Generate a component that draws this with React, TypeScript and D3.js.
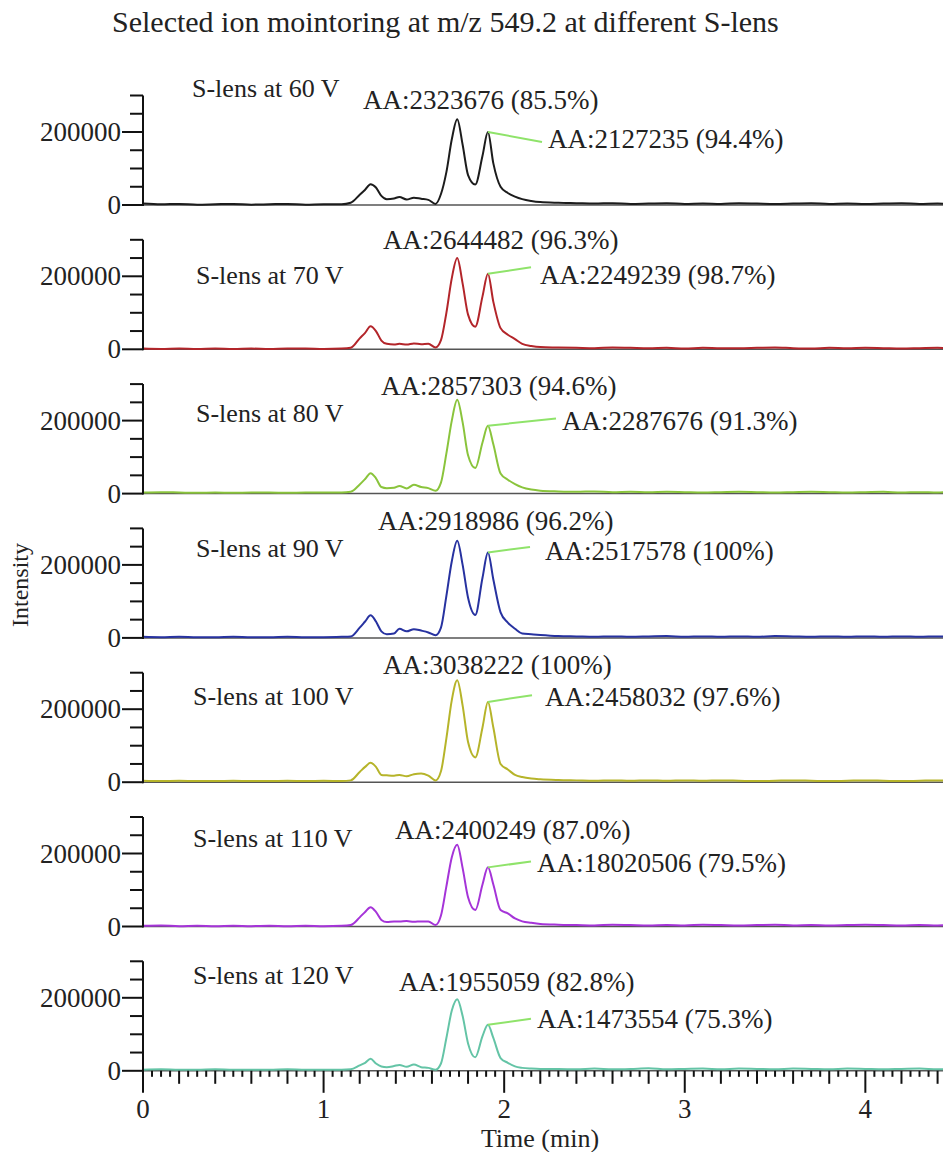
import React from 'react'
import * as d3 from 'd3'

// time grid (min) shared by all traces
const times = [
  0, 0.1, 0.2, 0.3, 0.4, 0.5, 0.6, 0.7, 0.8, 0.9, 1.0, 1.1,
  1.15, 1.2, 1.23, 1.26, 1.29, 1.32, 1.35, 1.39, 1.42, 1.46, 1.5, 1.54, 1.58, 1.62, 1.65,
  1.68, 1.71, 1.74, 1.77, 1.8, 1.84, 1.88, 1.91, 1.94, 1.98, 2.02, 2.06, 2.1, 2.15, 2.2,
  2.3, 2.4, 2.5, 2.6, 2.7, 2.8, 2.9, 3.0, 3.1, 3.2, 3.3, 3.4, 3.5, 3.6, 3.7, 3.8, 3.9,
  4.0, 4.1, 4.2, 4.3, 4.4, 4.45
]

// intensities in thousands
const s60 = [
  4, 2, 3, 1, 2, 3, 1, 2, 3, 1, 2, 2,
  6, 28, 42, 57, 48, 25, 16, 18, 22, 15, 20, 17, 14, 3, 30,
  90, 180, 235, 165, 82, 56, 135, 200, 114, 50, 33, 23, 16, 11, 8,
  6, 5, 4, 5, 3, 4, 5, 3, 4, 3, 5, 4, 3, 4, 5, 3, 4, 3, 4, 5, 3, 4, 3
]
const s70 = [
  2, 1, 2, 1, 2, 1, 2, 1, 2, 2, 1, 2,
  4, 30, 45, 63, 50, 24, 15, 13, 15, 13, 16, 14, 15, 5, 25,
  100, 195, 250, 180, 95, 62, 145, 207, 130, 58, 40, 28, 15, 9, 6,
  5, 4, 3, 5, 4, 3, 4, 2, 4, 3, 3, 4, 5, 3, 2, 4, 3, 4, 3, 2, 3, 4, 3
]
const s80 = [
  3, 4, 3, 2, 3, 2, 3, 3, 2, 3, 3, 3,
  5, 25, 40, 56, 42, 18, 15, 16, 21, 14, 24, 18, 15, 8, 30,
  110, 200, 257, 195, 105, 70, 140, 186, 135, 55, 38, 26, 17, 11, 8,
  6, 5, 6, 4, 5, 4, 5, 4, 3, 4, 5, 4, 3, 4, 5, 4, 3, 4, 5, 3, 4, 3, 4
]
const s90 = [
  3, 2, 3, 2, 2, 3, 2, 2, 3, 2, 2, 3,
  4, 28, 45, 62, 45, 18, 10, 12, 25, 18, 24, 20, 15, 7, 28,
  115, 210, 266, 200, 110, 63, 165, 234, 160, 70, 42, 25, 12, 10, 8,
  5, 4, 3, 4, 3, 4, 5, 3, 4, 3, 4, 3, 5, 4, 3, 4, 3, 4, 3, 4, 3, 4, 3
]
const s100 = [
  4, 3, 4, 3, 3, 4, 3, 3, 4, 3, 4, 3,
  5, 28, 42, 53, 42, 20, 19, 18, 20, 16, 22, 24, 18, 5, 30,
  120, 225, 279, 210, 110, 68, 150, 220, 150, 50, 35, 20, 14, 10, 8,
  6, 5, 4, 5, 4, 5, 4, 5, 4, 5, 4, 3, 4, 5, 4, 3, 4, 5, 4, 3, 4, 5, 4
]
const s110 = [
  2, 3, 1, 2, 1, 2, 1, 2, 1, 2, 1, 2,
  4, 25, 40, 53, 40, 18, 12, 14, 14, 15, 13, 14, 14, 4, 30,
  110, 190, 224, 160, 80, 45, 115, 162, 115, 45, 36, 22, 14, 10, 7,
  5, 4, 3, 5, 4, 3, 4, 3, 5, 4, 3, 4, 5, 3, 4, 3, 4, 5, 4, 3, 4, 3, 4
]
const s120 = [
  3, 4, 3, 3, 4, 3, 3, 3, 4, 3, 3, 3,
  4, 15, 22, 33, 20, 12, 10, 13, 16, 11, 17, 10, 8, 3, 20,
  90, 165, 196, 150, 75, 37, 95, 126, 90, 35, 22, 12, 8, 6, 5,
  5, 4, 6, 4, 5, 7, 4, 5, 6, 4, 6, 5, 4, 6, 5, 4, 6, 5, 4, 5, 6, 4, 5
]

const voltages = ['60', '70', '80', '90', '100', '110', '120']
const series = [s60, s70, s80, s90, s100, s110, s120]
const mainPeakLabels = [
  'AA:2323676 (85.5%)', 'AA:2644482 (96.3%)', 'AA:2857303 (94.6%)', 'AA:2918986 (96.2%)',
  'AA:3038222 (100%)', 'AA:2400249 (87.0%)', 'AA:1955059 (82.8%)'
]
const secondPeakLabels = [
  'AA:2127235 (94.4%)', 'AA:2249239 (98.7%)', 'AA:2287676 (91.3%)', 'AA:2517578 (100%)',
  'AA:2458032 (97.6%)', 'AA:18020506 (79.5%)', 'AA:1473554 (75.3%)'
]
const yTicks = [0, 50000, 100000, 150000, 200000, 250000, 300000]
const yTickLabels = [0, 200000]
const xTickLabels = [0, 1, 2, 3, 4]

const colors = ['#1c1c1c', '#b3252a', '#8ac43c', '#2732a0', '#b6b42a', '#a534d8', '#64c4a6']

// label placement per panel, offsets from the panel's zero line
const layout = [
  { sx: 192, sy: -108, mx: 363, my: -96, px: 548, py: -57, lx: 542, ly: -63 },
  { sx: 196, sy: -65, mx: 383, my: -100, px: 540, py: -65, lx: 531, ly: -82 },
  { sx: 196, sy: -72, mx: 381, my: -99, px: 562, py: -64, lx: 556, ly: -75 },
  { sx: 196, sy: -81, mx: 378, my: -108, px: 545, py: -78, lx: 530, ly: -91 },
  { sx: 193, sy: -77, mx: 383, my: -108, px: 545, py: -76, lx: 532, ly: -87 },
  { sx: 193, sy: -80, mx: 395, my: -88, px: 537, py: -55, lx: 531, ly: -65 },
  { sx: 193, sy: -87, mx: 399, my: -80, px: 537, py: -43, lx: 531, ly: -52 }
]

const W = 943
const H = 1152
const firstZero = 205
const panelStep = 144.3
const panelHeight = 109.5
const font = '"Liberation Serif", "Times New Roman", serif'

const x = d3.scaleLinear().domain([0, 4.43]).range([143, 943])

const Panel = ({ idx }: { idx: number }) => {
  const zero = firstZero + idx * panelStep
  const y = d3.scaleLinear().domain([0, 300000]).range([zero, zero - panelHeight])
  const vals = series[idx]
  const line = d3.line<number>()
    .x((_, i) => x(times[i]))
    .y((d) => y(d * 1000))
    .curve(d3.curveMonotoneX)
  const L = layout[idx]
  // second peak: max after the valley
  let pk = 0
  times.forEach((t, i) => {
    if (t > 1.85 && t < 2.0 && (pk === 0 || vals[i] > vals[pk])) pk = i
  })
  return (
    <g>
      <line x1={143} x2={943} y1={zero} y2={zero} stroke="#555" strokeWidth={1.5} />
      <path d={line(vals) || ''} fill="none" stroke={colors[idx]} strokeWidth={2} />
      <line x1={143} x2={143} y1={y(300000)} y2={zero + 1} stroke="#111" strokeWidth={2} />
      {yTicks.map((t) => (
        <line key={t} x1={yTickLabels.includes(t) ? 122 : 130} x2={143} y1={y(t)} y2={y(t)}
          stroke="#111" strokeWidth={2} />
      ))}
      {yTickLabels.map((t) => (
        <text key={t} x={121} y={y(t) + 9} textAnchor="end" fontSize={27} fontFamily={font} fill="#222">
          {t}
        </text>
      ))}
      <text x={L.sx} y={zero + L.sy} fontSize={26} fontFamily={font} fill="#222">
        S-lens at {voltages[idx]} V
      </text>
      <text x={L.mx} y={zero + L.my} fontSize={27} fontFamily={font} fill="#222">
        {mainPeakLabels[idx]}
      </text>
      <text x={L.px} y={zero + L.py} fontSize={27} fontFamily={font} fill="#222">
        {secondPeakLabels[idx]}
      </text>
      <line x1={x(times[pk])} y1={y(vals[pk] * 1000)} x2={L.lx} y2={zero + L.ly}
        stroke="#8fe36a" strokeWidth={2} />
    </g>
  )
}

export default function App () {
  const bottom = firstZero + 6 * panelStep
  const minor = d3.range(0, 4.431, 0.05)
  return (
    <svg width={W} height={H} style={{ position: 'absolute', left: 0, top: 0, background: '#fff' }}>
      <rect width={W} height={H} fill="#fff" />
      <text x={112} y={32} fontSize={30} fontFamily={font} fill="#222">
        Selected ion mointoring at m/z 549.2 at different S-lens
      </text>
      {series.map((_, i) => <Panel key={i} idx={i} />)}
      {minor.map((t, i) => {
        const r = Math.round(t * 100)
        const len = r % 100 === 0 ? 22 : r % 20 === 0 ? 13 : 6
        return (
          <line key={i} x1={x(t)} x2={x(t)} y1={bottom} y2={bottom + len} stroke="#111" strokeWidth={2} />
        )
      })}
      {xTickLabels.map((t) => (
        <text key={t} x={x(t)} y={1118} textAnchor="middle" fontSize={27} fontFamily={font} fill="#222">
          {t}
        </text>
      ))}
      <text x={540} y={1147} textAnchor="middle" fontSize={26} fontFamily={font} fill="#222">
        Time (min)
      </text>
      <text transform="translate(28,585) rotate(-90)" textAnchor="middle" fontSize={24} fontFamily={font} fill="#222">
        Intensity
      </text>
    </svg>
  )
}
